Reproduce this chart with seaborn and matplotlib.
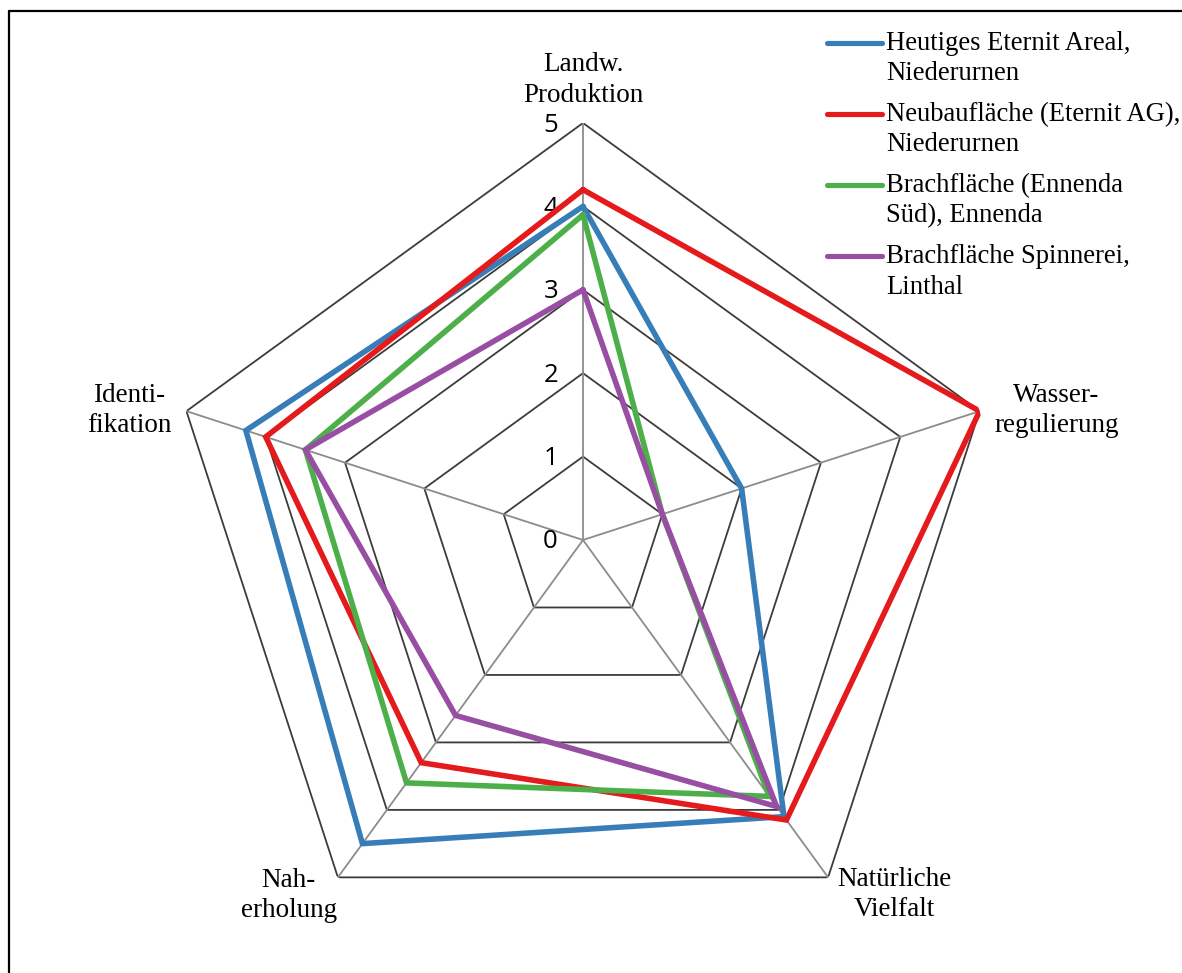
import numpy as np
import pandas as pd
import matplotlib
matplotlib.use("Agg")
import matplotlib.pyplot as plt
import seaborn as sns
from matplotlib.transforms import offset_copy
from matplotlib.legend_handler import HandlerLine2D
from matplotlib.lines import Line2D

# ---------------- data ----------------
categories = ["Landw.\nProduktion", "Wasser-\nregulierung", "Natürliche\nVielfalt",
              "Nah-\nerholung", "Identi-\nfikation"]
series_names = ["Heutiges Eternit Areal,\nNiederurnen",
                "Neubaufläche (Eternit AG),\nNiederurnen",
                "Brachfläche (Ennenda\nSüd), Ennenda",
                "Brachfläche Spinnerei,\nLinthal"]
heutiges = [4.0, 2.0, 4.1, 4.5, 4.25]
neubau = [4.2, 5.0, 4.15, 3.3, 4.0]
ennenda = [3.9, 1.0, 3.8, 3.6, 3.5]
spinnerei = [3.0, 1.0, 3.95, 2.6, 3.5]
r_ticks = [0, 1, 2, 3, 4, 5]
colors = ["#377EB8", "#E41A1C", "#4DAF4A", "#984EA3"]

# ---------------- style ----------------
sns.set_theme(style="white")
plt.rcParams["font.family"] = ["Liberation Serif", "DejaVu Serif"]
plt.rcParams["text.color"] = "black"

W, H = 1182, 973
fig = plt.figure(figsize=(W / 100, H / 100), dpi=100)
fig.patch.set_facecolor("white")

cx, cy, R = 583, 540, 417
ax = fig.add_axes([(cx - R) / W, (H - cy - R) / H, 2 * R / W, 2 * R / H], projection="polar")
ax.set_theta_offset(np.pi / 2)
ax.set_theta_direction(-1)
ax.set_ylim(0, 5)
ax.grid(False)
ax.set_xticks([])
ax.set_yticks([])
ax.spines["polar"].set_visible(False)
ax.patch.set_alpha(0)

n = len(categories)
theta = np.arange(n) * 2 * np.pi / n
theta_closed = np.r_[theta, 2 * np.pi]

# grid rings
for r in r_ticks[1:]:
    ax.plot(theta_closed, [r] * (n + 1), color="#3c3c3c", lw=1.3, zorder=1)
# spokes
for t in theta:
    ax.plot([t, t], [0, r_ticks[-1]], color="#8c8c8c", lw=1.3, zorder=2)

# data
all_vals = [heutiges, neubau, ennenda, spinnerei]
rows = []
for name, vals in zip(series_names, all_vals):
    for t, v in zip(theta_closed, list(vals) + [vals[0]]):
        rows.append({"theta": t, "value": v, "series": name})
df = pd.DataFrame(rows)
sns.lineplot(data=df, x="theta", y="value", hue="series", hue_order=series_names,
             palette=colors, sort=False, estimator=None, lw=4.0, ax=ax, legend=False,
             zorder=5)
for line in ax.get_lines()[-4:]:
    line.set_solid_joinstyle("miter")
ax.set_xlabel("")
ax.set_ylabel("")
ax.set_ylim(0, 5)

# radial tick labels
tick_tr = offset_copy(ax.transData, fig=fig, x=-25, y=-2, units="dots")
for v in r_ticks:
    ax.text(0, v, str(v), transform=tick_tr, ha="right", va="center",
            fontsize=18.5, family=["Open Sans", "DejaVu Sans"], color="black")

# category labels
label_offsets = [(0, 43), (77, 1), (66, -17), (-49, -18), (-57, 1)]
for t, lab, (dx, dy) in zip(theta, categories, label_offsets):
    tr = offset_copy(ax.transData, fig=fig, x=dx, y=dy, units="dots")
    ax.text(t, r_ticks[-1], lab, transform=tr, ha="center", va="center",
            multialignment="center", fontsize=19.5, linespacing=1.27, color="black")

# legend
class TopHandler(HandlerLine2D):
    def create_artists(self, legend, orig_handle, xdescent, ydescent, width, height,
                       fontsize, trans):
        arts = super().create_artists(legend, orig_handle, xdescent, ydescent, width,
                                      height, fontsize, trans)
        for a in arts:
            a.set_ydata(np.asarray(a.get_ydata(), dtype=float) + 11.5)
        return arts

handles = [Line2D([0], [0], color=c, lw=3.7, solid_capstyle="round") for c in colors]
leg = fig.legend(handles, series_names, loc="upper left",
                 bbox_to_anchor=(827 / W, 1 - 31 / H), frameon=False,
                 prop={"family": ["Liberation Serif"], "size": 19.2},
                 handlelength=2.06, handletextpad=0.15, labelspacing=0.6,
                 borderpad=0, borderaxespad=0,
                 handler_map={h: TopHandler() for h in handles})
for t in leg.get_texts():
    t.set_linespacing(1.27)
    t.set_color("black")

# chart border (left and top)
fig.add_artist(Line2D([8.5 / W, 8.5 / W], [0, 1 - 10.5 / H], transform=fig.transFigure,
                      color="black", lw=1.6))
fig.add_artist(Line2D([8.5 / W, 1], [1 - 10.5 / H, 1 - 10.5 / H], transform=fig.transFigure,
                      color="black", lw=1.6))

fig.savefig("out.png", dpi=100, facecolor="white")
